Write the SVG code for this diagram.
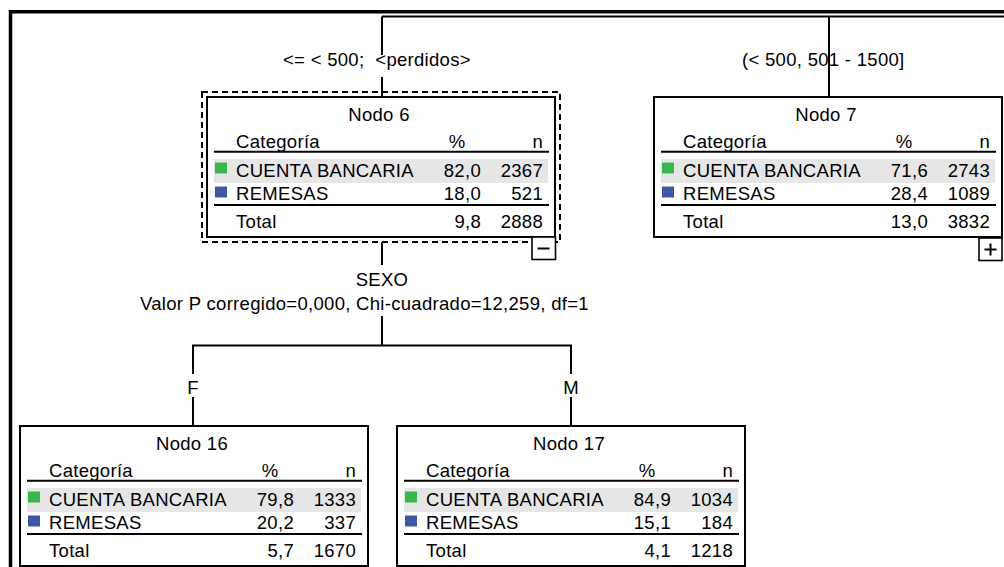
<svg xmlns="http://www.w3.org/2000/svg" width="1004" height="567" viewBox="0 0 1004 567">
<style>
text{font-family:"Liberation Sans",Arial,sans-serif;font-size:18.5px;fill:#000;letter-spacing:0.3px}
.m{text-anchor:middle}
.e{text-anchor:end}
.box{fill:#fff;stroke:#000;stroke-width:2}
.rule{stroke:#000;stroke-width:2}
.band{fill:#e6e6e6}
.g{fill:#38b84a}
.b{fill:#3e56a6}
.c{stroke:#000;stroke-width:2;fill:none}
.tog{fill:#fff;stroke:#000;stroke-width:1.6}
</style>
<defs>
<g id="tbl">
<line class="rule" x1="7" y1="54.7" x2="342" y2="54.7"/>
<rect class="band" x="7" y="62" width="334" height="24"/>
<rect class="g" x="8" y="65.5" width="12" height="11"/>
<rect class="b" x="8" y="89.5" width="12" height="11"/>
<line class="rule" x1="7" y1="108" x2="342" y2="108"/>
<text x="29" y="51">Categoría</text>
<text class="m" x="250" y="51">%</text>
<text class="e" x="336" y="51">n</text>
<text x="29" y="80">CUENTA BANCARIA</text>
<text x="29" y="103">REMESAS</text>
<text x="29" y="131">Total</text>
</g>
</defs>
<rect x="0" y="0" width="1004" height="567" fill="#fff"/>
<path d="M10.5 580 V11.75 H1010" fill="none" stroke="#000" stroke-width="3.5"/>
<g id="connectors">
<path class="c" d="M382 16.5 H1010"/>
<path class="c" d="M382 16.5 V55 M382 77 V97"/>
<path class="c" d="M829 16.5 V97"/>
<path class="c" d="M382 242 V265"/>
<path class="c" d="M382 316 V345.5"/>
<path class="c" d="M193 374 V345.5 H571 V374"/>
<path class="c" d="M193 397 V426 M571 397 V426"/>
<text x="283" y="66" xml:space="preserve">&lt;= &lt; 500;  &lt;perdidos&gt;</text>
<text x="742" y="66">(&lt; 500, 501 - 1500]</text>
<text class="m" x="382" y="286">SEXO</text>
<text x="140" y="310">Valor P corregido=0,000, Chi-cuadrado=12,259, df=1</text>
<text class="m" x="193" y="394">F</text>
<text class="m" x="571" y="394">M</text>
</g>
<g id="nodo6">
<rect x="202" y="92" width="358" height="150" fill="none" stroke="#000" stroke-width="2" stroke-dasharray="6 4"/>
<g transform="translate(207,97)">
<rect class="box" x="0" y="0" width="348" height="140"/>
<use href="#tbl"/>
<text class="m" x="172" y="24">Nodo 6</text>
<text class="e" x="274" y="80">82,0</text>
<text class="e" x="336" y="80">2367</text>
<text class="e" x="274" y="103">18,0</text>
<text class="e" x="336" y="103">521</text>
<text class="e" x="274" y="131">9,8</text>
<text class="e" x="336" y="131">2888</text>
</g>
<rect class="tog" x="532" y="237" width="23.5" height="22.5"/>
<line x1="537.5" y1="248.5" x2="549.5" y2="248.5" stroke="#000" stroke-width="2"/>
</g>
<g id="nodo7">
<g transform="translate(654,97)">
<rect class="box" x="0" y="0" width="348" height="140"/>
<use href="#tbl"/>
<text class="m" x="172" y="24">Nodo 7</text>
<text class="e" x="274" y="80">71,6</text>
<text class="e" x="336" y="80">2743</text>
<text class="e" x="274" y="103">28,4</text>
<text class="e" x="336" y="103">1089</text>
<text class="e" x="274" y="131">13,0</text>
<text class="e" x="336" y="131">3832</text>
</g>
<rect class="tog" x="979" y="238" width="23" height="22.5"/>
<path d="M984.5 249.5 H996.5 M990.5 243.5 V255.5" stroke="#000" stroke-width="2"/>
</g>
<g id="nodo16" transform="translate(20,426)">
<rect class="box" x="0" y="0" width="348" height="140"/>
<use href="#tbl"/>
<text class="m" x="172" y="24">Nodo 16</text>
<text class="e" x="274" y="80">79,8</text>
<text class="e" x="336" y="80">1333</text>
<text class="e" x="274" y="103">20,2</text>
<text class="e" x="336" y="103">337</text>
<text class="e" x="274" y="131">5,7</text>
<text class="e" x="336" y="131">1670</text>
</g>
<g id="nodo17" transform="translate(397,426)">
<rect class="box" x="0" y="0" width="348" height="140"/>
<use href="#tbl"/>
<text class="m" x="172" y="24">Nodo 17</text>
<text class="e" x="274" y="80">84,9</text>
<text class="e" x="336" y="80">1034</text>
<text class="e" x="274" y="103">15,1</text>
<text class="e" x="336" y="103">184</text>
<text class="e" x="274" y="131">4,1</text>
<text class="e" x="336" y="131">1218</text>
</g>
</svg>
